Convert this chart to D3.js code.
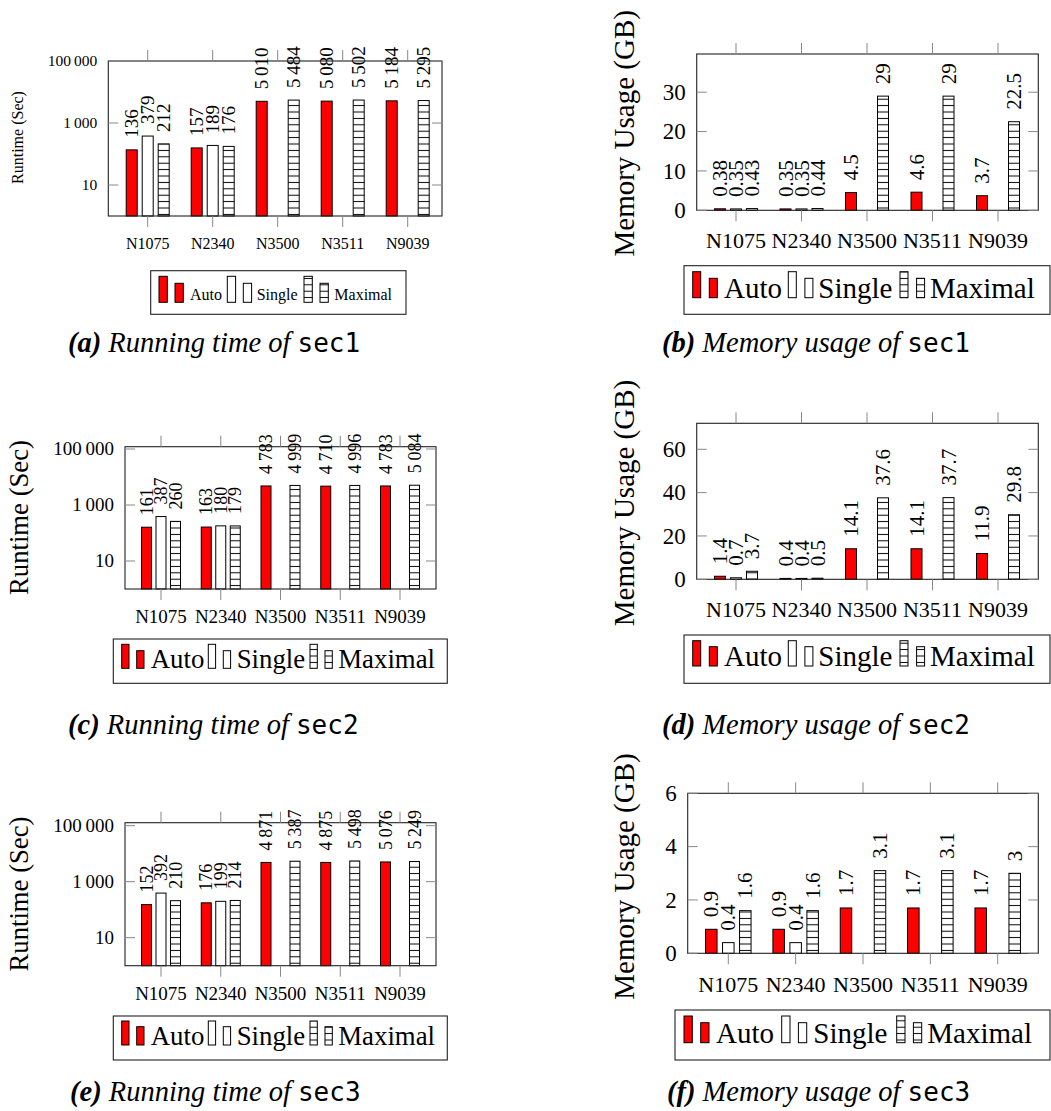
<!DOCTYPE html>
<html>
<head>
<meta charset="utf-8">
<script src="https://cdn.jsdelivr.net/npm/d3@7"></script>
<style>
  body { margin: 0; background: #fff; }
  text { font-family: "Liberation Serif", "Times New Roman", serif; fill: #000; }
</style>
</head>
<body>
<svg id="fig" width="1051" height="1111"></svg>
<script>
const categories = ['N1075', 'N2340', 'N3500', 'N3511', 'N9039'];
const seriesNames = ['Auto', 'Single', 'Maximal'];

// one row per series: Auto, Single, Maximal (null = no bar)
const runtimeSec1 = [
    [136, 157, 5010, 5080, 5184],
    [379, 189, null, null, null],
    [212, 176, 5484, 5502, 5295],
];
const memorySec1 = [
    [0.38, 0.35, 4.5, 4.6, 3.7],
    [0.35, 0.35, null, null, null],
    [0.43, 0.44, 29, 29, 22.5],
];
const runtimeSec2 = [
    [161, 163, 4783, 4710, 4783],
    [387, 180, null, null, null],
    [260, 179, 4999, 4996, 5084],
];
const memorySec2 = [
    [1.4, 0.4, 14.1, 14.1, 11.9],
    [0.7, 0.4, null, null, null],
    [3.7, 0.5, 37.6, 37.7, 29.8],
];
const runtimeSec3 = [
    [152, 176, 4871, 4875, 5076],
    [392, 199, null, null, null],
    [210, 214, 5387, 5498, 5249],
];
const memorySec3 = [
    [0.9, 0.9, 1.7, 1.7, 1.7],
    [0.4, 0.4, null, null, null],
    [1.6, 1.6, 3.1, 3.1, 3],
];

const runtimeTicks = [10, 1000, 100000];
const memTicks1 = [0, 10, 20, 30];
const memTicks2 = [0, 20, 40, 60];
const memTicks3 = [0, 2, 4, 6];

const svg = d3.select('#fig');
svg.append('rect').attr('width', 1051).attr('height', 1111).attr('fill', '#fff');

// horizontal-lines hatch for "Maximal"
const pat = svg.append('defs').append('pattern')
    .attr('id', 'hlines')
    .attr('patternUnits', 'userSpaceOnUse')
    .attr('width', 10).attr('height', 6.4);
pat.append('rect').attr('width', 10).attr('height', 6.4).attr('fill', '#fff');
pat.append('line').attr('x1', 0).attr('x2', 10).attr('y1', 3.2).attr('y2', 3.2)
    .attr('stroke', '#000').attr('stroke-width', 1);

const fills = { Auto: '#ff0000', Single: '#ffffff', Maximal: 'url(#hlines)' };

const thin = v => d3.format(',')(v).replace(/,/g, '\u2009');
const fmtVal = v => (v >= 1000 ? thin(v) : String(v));

const smallFs = { tick: 15.5, xtick: 16, ylab: 16, val: 19, leg: 16 };
const memFs = { tick: 23, xtick: 22, ylab: 29, val: 21, leg: 29 };
const midFs = { tick: 19, xtick: 19, ylab: 26.7, val: 18, leg: 26.8 };

const legendLeft = { box: [113.3, 447.3], r1: [121.7, 208.3, 310], dr: 15, rw: 7.3, tx: [150.7, 236.7, 338.3] };
const legendRight = { box: [684, 1050], r1: [692.7, 788.3, 900], dr: 16.6, rw: 8, tx: [724, 818.3, 930] };

const panels = [
    { data: runtimeSec1, log: true, ticks: runtimeTicks, ymax: 1e5,
      f: { l: 108.3, r: 442, t: 61, b: 216 }, x0: 147.7, step: 65, off: 16, bw: 11,
      fs: smallFs, ylabel: 'Runtime (Sec)', ylab: [23.3, 137.5], xbase: 249,
      leg: { box: [150.7, 406], r1: [159, 227.3, 304], dr: 16, rw: 8.3, tx: [190, 256.7, 334.3],
             y0: 270.7, y1: 314.3, tall: 276.3, short: 283.3, bot: 302.3, base: 300 },
      cap: { x: 68, y: 352, tag: '(a)', text: ' Running time of ', code: 'sec1' } },
    { data: memorySec1, log: false, ticks: memTicks1, ymax: 39.7,
      f: { l: 696.7, r: 1038.3, t: 54, b: 210.3 }, x0: 736, step: 65.5, off: 16, bw: 11,
      fs: memFs, ylabel: 'Memory Usage (GB)', ylab: [634.2, 133.3], xbase: 248,
      leg: Object.assign({}, legendRight, { y0: 265.7, y1: 314.3, tall: 271.7, short: 278.3, bot: 297.7, base: 298 }),
      cap: { x: 662, y: 352, tag: '(b)', text: ' Memory usage of ', code: 'sec1' } },
    { data: runtimeSec2, log: true, ticks: runtimeTicks, ymax: Math.pow(10, 142.3 / 28),
      f: { l: 125, r: 436, t: 446.7, b: 589 }, x0: 161, step: 59.75, off: 14.5, bw: 10,
      fs: midFs, ylabel: 'Runtime (Sec)', ylab: [27.7, 517.5], xbase: 623,
      leg: Object.assign({}, legendLeft, { y0: 639, y1: 683.3, tall: 644.3, short: 650.7, bot: 668.3, base: 668 }),
      cap: { x: 68, y: 734, tag: '(c)', text: ' Running time of ', code: 'sec2' } },
    { data: memorySec2, log: false, ticks: memTicks2, ymax: 72,
      f: { l: 696.7, r: 1038.3, t: 423.3, b: 579.3 }, x0: 736, step: 65.5, off: 16, bw: 11,
      fs: memFs, ylabel: 'Memory Usage (GB)', ylab: [634.2, 503], xbase: 617.3,
      leg: Object.assign({}, legendRight, { y0: 635, y1: 683.3, tall: 640.7, short: 646.7, bot: 666, base: 666 }),
      cap: { x: 662, y: 734, tag: '(d)', text: ' Memory usage of ', code: 'sec2' } },
    { data: runtimeSec3, log: true, ticks: runtimeTicks, ymax: Math.pow(10, 143 / 28),
      f: { l: 125, r: 436, t: 822.7, b: 965.7 }, x0: 161, step: 59.75, off: 14.5, bw: 10,
      fs: midFs, ylabel: 'Runtime (Sec)', ylab: [27.7, 894], xbase: 1000,
      leg: Object.assign({}, legendLeft, { y0: 1016, y1: 1060, tall: 1021, short: 1026.7, bot: 1045, base: 1045 }),
      cap: { x: 70, y: 1100.5, tag: '(e)', text: ' Running time of ', code: 'sec3' } },
    { data: memorySec3, log: false, ticks: memTicks3, ymax: 6,
      f: { l: 687.7, r: 1038.3, t: 793.3, b: 953.3 }, x0: 728.3, step: 67.35, off: 17, bw: 11.5,
      fs: memFs, ylabel: 'Memory Usage (GB)', ylab: [634.2, 876.5], xbase: 992.3,
      leg: { box: [675, 1050], r1: [684, 781.7, 896.7], dr: 16.7, rw: 8.3, tx: [716, 813.3, 927.3],
             y0: 1010, y1: 1060, tall: 1016, short: 1022.7, bot: 1042.7, base: 1042.7 },
      cap: { x: 667, y: 1100.5, tag: '(f)', text: ' Memory usage of ', code: 'sec3' } },
];

panels.forEach(p => {
    const g = svg.append('g');
    const f = p.f;

    const x = d3.scalePoint().domain(categories).range([p.x0, p.x0 + p.step * (categories.length - 1)]);
    const xs = d3.scalePoint().domain(seriesNames).range([-p.off, p.off]);
    const y = p.log
        ? d3.scaleLog().domain([1, p.ymax]).range([f.b, f.t])
        : d3.scaleLinear().domain([0, p.ymax]).range([f.b, f.t]);

    // bars
    seriesNames.forEach((s, si) => {
        const rows = categories.map((c, ci) => ({ c, v: p.data[si][ci] })).filter(d => d.v != null);
        g.selectAll(null).data(rows).join('rect')
            .attr('x', d => x(d.c) + xs(s) - p.bw / 2)
            .attr('y', d => y(d.v))
            .attr('width', p.bw)
            .attr('height', d => f.b - y(d.v))
            .attr('fill', fills[s])
            .attr('stroke', '#000')
            .attr('stroke-width', 1);
    });

    // frame
    g.append('rect')
        .attr('x', f.l).attr('y', f.t)
        .attr('width', f.r - f.l).attr('height', f.b - f.t)
        .attr('fill', 'none').attr('stroke', '#222').attr('stroke-width', 1.1);

    // x ticks, outside top and bottom
    categories.forEach(c => {
        g.append('line').attr('x1', x(c)).attr('x2', x(c)).attr('y1', f.t - 11).attr('y2', f.t)
            .attr('stroke', '#888').attr('stroke-width', 1);
        g.append('line').attr('x1', x(c)).attr('x2', x(c)).attr('y1', f.b).attr('y2', f.b + 11)
            .attr('stroke', '#888').attr('stroke-width', 1);
    });
    g.selectAll(null).data(categories).join('text')
        .attr('x', d => x(d)).attr('y', p.xbase)
        .attr('text-anchor', 'middle')
        .attr('font-size', p.fs.xtick)
        .text(d => d);

    // y ticks, inside left and right
    p.ticks.forEach(t => {
        const ty = y(t);
        g.append('line').attr('x1', f.l).attr('x2', f.l + 10).attr('y1', ty).attr('y2', ty)
            .attr('stroke', '#888').attr('stroke-width', 1);
        g.append('line').attr('x1', f.r - 10).attr('x2', f.r).attr('y1', ty).attr('y2', ty)
            .attr('stroke', '#888').attr('stroke-width', 1);
    });
    g.selectAll(null).data(p.ticks).join('text')
        .attr('x', f.l - 11).attr('y', d => y(d))
        .attr('dy', '0.33em')
        .attr('text-anchor', 'end')
        .attr('font-size', p.fs.tick)
        .text(d => (p.log ? thin(d) : d));

    // y label
    g.append('text')
        .attr('transform', `translate(${p.ylab[0]},${p.ylab[1]}) rotate(-90)`)
        .attr('text-anchor', 'middle')
        .attr('font-size', p.fs.ylab)
        .text(p.ylabel);

    // value labels above bars
    seriesNames.forEach((s, si) => {
        const rows = categories.map((c, ci) => ({ c, v: p.data[si][ci] })).filter(d => d.v != null);
        g.selectAll(null).data(rows).join('text')
            .attr('transform', d => `translate(${x(d.c) + xs(s) + p.fs.val * 0.34},${y(d.v) - 12}) rotate(-90)`)
            .attr('font-size', p.fs.val)
            .text(d => fmtVal(d.v));
    });

    // legend
    const L = p.leg;
    g.append('rect')
        .attr('x', L.box[0]).attr('y', L.y0)
        .attr('width', L.box[1] - L.box[0]).attr('height', L.y1 - L.y0)
        .attr('fill', '#fff').attr('stroke', '#222').attr('stroke-width', 1.1);
    seriesNames.forEach((s, si) => {
        [[L.r1[si], L.tall], [L.r1[si] + L.dr, L.short]].forEach(([rx, rt]) => {
            g.append('rect')
                .attr('x', rx).attr('y', rt)
                .attr('width', L.rw).attr('height', L.bot - rt)
                .attr('fill', fills[s]).attr('stroke', '#000').attr('stroke-width', 1);
        });
        g.append('text')
            .attr('x', L.tx[si]).attr('y', L.base)
            .attr('font-size', p.fs.leg)
            .text(s);
    });

    // caption
    const cap = g.append('text').attr('x', p.cap.x).attr('y', p.cap.y).attr('font-size', 28.5);
    cap.append('tspan').attr('font-style', 'italic').attr('font-weight', 'bold').text(p.cap.tag);
    cap.append('tspan').attr('font-style', 'italic').text(p.cap.text);
    cap.append('tspan').style('font-family', '"DejaVu Sans Mono", monospace').attr('font-size', 26).text(p.cap.code);
});
</script>
</body>
</html>
